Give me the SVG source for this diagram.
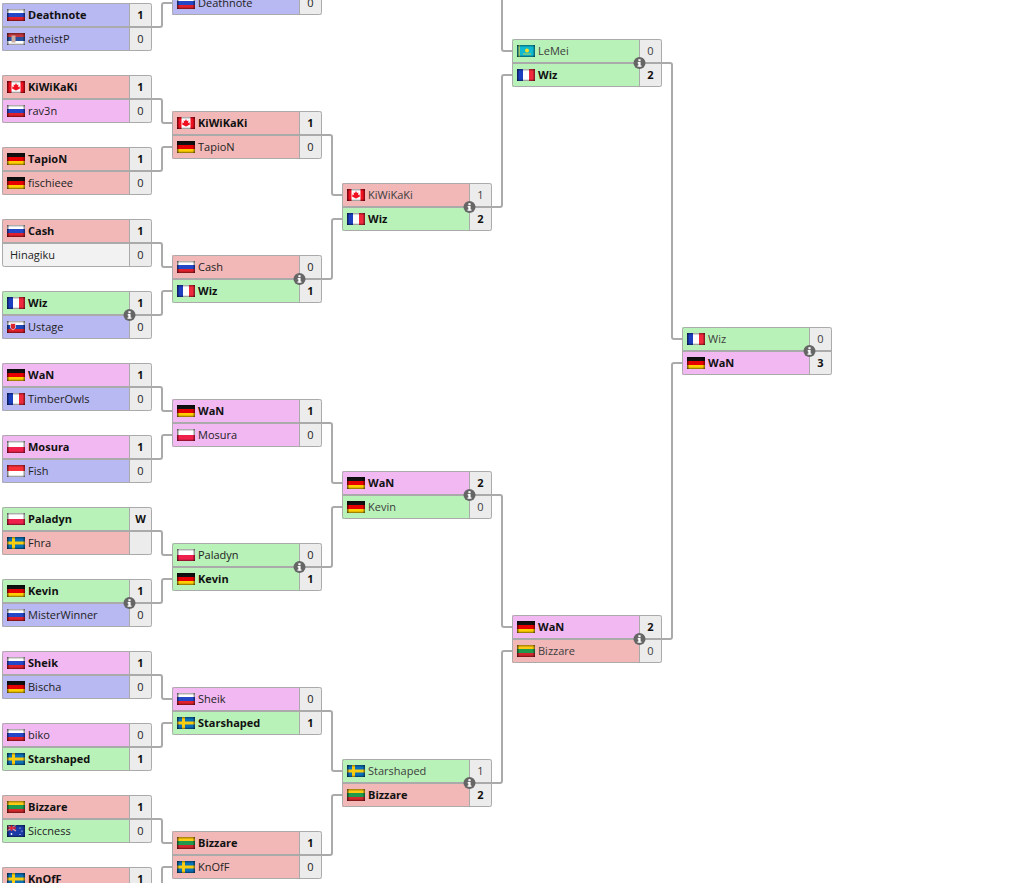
<svg xmlns="http://www.w3.org/2000/svg" width="1026" height="883" viewBox="0 0 1026 883">
<style>
text{font-family:"Open Sans","Noto Sans","DejaVu Sans",sans-serif;font-size:11px;fill:#222}
.b{font-weight:700;fill:#111}
.l{fill:#3c3c3c}
.s{text-anchor:middle}
.red{fill:#f2b8b8}.blu{fill:#b8b8f2}.vio{fill:#f2b8f2}.grn{fill:#b8f2b8}.gry{fill:#f2f2f2}.sc{fill:#ececec}
.box{fill:none;stroke:#aaa;stroke-width:1}
.div{stroke:#aaa;stroke-width:2;fill:none}
.vd{stroke:#aaa;stroke-width:1;fill:none}
.con{fill:none;stroke:#aaa;stroke-width:2;stroke-linejoin:round}
</style>
<defs>
<linearGradient id="gl" x1="0" y1="0" x2="1" y2="0"><stop offset="0" stop-color="#000" stop-opacity=".6"/><stop offset=".14" stop-color="#000" stop-opacity="0"/><stop offset=".86" stop-color="#000" stop-opacity="0"/><stop offset="1" stop-color="#000" stop-opacity=".5"/></linearGradient>
<linearGradient id="gv" x1="0" y1="0" x2="0" y2="1"><stop offset="0" stop-color="#000" stop-opacity=".4"/><stop offset=".2" stop-color="#000" stop-opacity="0"/><stop offset=".84" stop-color="#000" stop-opacity="0"/><stop offset="1" stop-color="#000" stop-opacity=".5"/></linearGradient>
<g id="ov"><rect width="18" height="12" fill="url(#gl)"/><rect width="18" height="12" fill="url(#gv)"/></g>
<symbol id="ru" width="18" height="12"><rect width="18" height="4" fill="#fff"/><rect y="4" width="18" height="4" fill="#2447c8"/><rect y="8" width="18" height="4" fill="#e0202c"/><use href="#ov"/></symbol>
<symbol id="rs" width="18" height="12"><rect width="18" height="4" fill="#c6363c"/><rect y="4" width="18" height="4" fill="#2a4f9c"/><rect y="8" width="18" height="4" fill="#fff"/><rect x="4.500" y="2.500" width="4" height="7" fill="#c9a9a0"/><use href="#ov"/></symbol>
<symbol id="ca" width="18" height="12"><rect width="18" height="12" fill="#fff"/><rect width="4.500" height="12" fill="#f01020"/><rect x="13.500" width="4.500" height="12" fill="#f01020"/><path d="M9 2L10 4L11.500 3.500L11 6L13 5.500L12.500 7L13 7.500L10 9H9.300V10H8.700V9H8L5 7.500L5.500 7L5 5.500L7 6L6.500 3.500L8 4Z" fill="#f01020"/><use href="#ov"/></symbol>
<symbol id="de" width="18" height="12"><rect width="18" height="4" fill="#111"/><rect y="4" width="18" height="4" fill="#e80000"/><rect y="8" width="18" height="4" fill="#ffce00"/><use href="#ov"/></symbol>
<symbol id="fr" width="18" height="12"><rect width="6" height="12" fill="#1c3fc0"/><rect x="6" width="6" height="12" fill="#fff"/><rect x="12" width="6" height="12" fill="#f02a3c"/><use href="#ov"/></symbol>
<symbol id="sk" width="18" height="12"><rect width="18" height="4" fill="#fff"/><rect y="4" width="18" height="4" fill="#1f47b8"/><rect y="8" width="18" height="4" fill="#e0202c"/><path d="M3.500 2.500h5v4.500l-2.500 2-2.500-2z" fill="#d8242c" stroke="#fff" stroke-width=".6"/><use href="#ov"/></symbol>
<symbol id="pl" width="18" height="12"><rect width="18" height="6" fill="#fff"/><rect y="6" width="18" height="6" fill="#f0204c"/><use href="#ov"/></symbol>
<symbol id="id" width="18" height="12"><rect width="18" height="6" fill="#f83038"/><rect y="6" width="18" height="6" fill="#fff"/><use href="#ov"/></symbol>
<symbol id="se" width="18" height="12"><rect width="18" height="12" fill="#0a70b8"/><rect x="5" width="3" height="12" fill="#f8cc10"/><rect y="4.500" width="18" height="3" fill="#f8cc10"/><use href="#ov"/></symbol>
<symbol id="lt" width="18" height="12"><rect width="18" height="4" fill="#fdc913"/><rect y="4" width="18" height="4" fill="#1f9a4c"/><rect y="8" width="18" height="4" fill="#d1272d"/><use href="#ov"/></symbol>
<symbol id="au" width="18" height="12"><rect width="18" height="12" fill="#1a3aa8"/><rect width="9" height="6" fill="#2a3fa8"/><path d="M0 0l9 6M9 0L0 6" stroke="#e8a0a8" stroke-width="1.200"/><path d="M4.500 0v6M0 3h9" stroke="#e02030" stroke-width="1.500"/><circle cx="4.500" cy="9" r=".9" fill="#fff"/><circle cx="13" cy="3" r=".6" fill="#fff"/><circle cx="15" cy="6" r=".6" fill="#fff"/><circle cx="13" cy="9.500" r=".6" fill="#fff"/><use href="#ov"/></symbol>
<symbol id="kz" width="18" height="12"><rect width="18" height="12" fill="#10b8d0"/><circle cx="10" cy="5.500" r="2" fill="#f4e020"/><path d="M6 9h8" stroke="#f4e020" stroke-width=".8"/><rect x="1.500" width="1.200" height="12" fill="#d8d040"/><use href="#ov"/></symbol>
<g id="inf"><circle r="6" fill="#666"/><rect x="-1.100" y="-3.800" width="2.200" height="2" fill="#fff"/><path d="M-1.800-.9H1.100V2.400H2V3.800H-2V2.400H-1.100V.5H-1.800z" fill="#fff"/></g>
<g id="fr0"><rect x="128" width="22" height="48" class="sc"/></g>
<g id="frame"><path class="vd" d="M127.500 0V48"/><path class="div" d="M0 24H150"/><rect class="box" x=".5" y=".5" width="149" height="47" rx="2"/></g>
</defs>

<g id="connectors">
<path class="con" d="M152 27H160Q162 27 162 25V5Q162 3 164 3H172"/>
<path class="con" d="M152 99H160Q162 99 162 101V121Q162 123 164 123H172"/>
<path class="con" d="M152 171H160Q162 171 162 169V149Q162 147 164 147H172"/>
<path class="con" d="M152 243H160Q162 243 162 245V265Q162 267 164 267H172"/>
<path class="con" d="M152 315H160Q162 315 162 313V293Q162 291 164 291H172"/>
<path class="con" d="M152 387H160Q162 387 162 389V409Q162 411 164 411H172"/>
<path class="con" d="M152 459H160Q162 459 162 457V437Q162 435 164 435H172"/>
<path class="con" d="M152 531H160Q162 531 162 533V553Q162 555 164 555H172"/>
<path class="con" d="M152 603H160Q162 603 162 601V581Q162 579 164 579H172"/>
<path class="con" d="M152 675H160Q162 675 162 677V697Q162 699 164 699H172"/>
<path class="con" d="M152 747H160Q162 747 162 745V725Q162 723 164 723H172"/>
<path class="con" d="M152 819H160Q162 819 162 821V841Q162 843 164 843H172"/>
<path class="con" d="M162 890V869Q162 867 164 867H172"/>
<path class="con" d="M322 135H330Q332 135 332 137V193Q332 195 334 195H342"/>
<path class="con" d="M322 279H330Q332 279 332 277V221Q332 219 334 219H342"/>
<path class="con" d="M322 423H330Q332 423 332 425V481Q332 483 334 483H342"/>
<path class="con" d="M322 567H330Q332 567 332 565V509Q332 507 334 507H342"/>
<path class="con" d="M322 711H330Q332 711 332 713V769Q332 771 334 771H342"/>
<path class="con" d="M322 855H330Q332 855 332 853V797Q332 795 334 795H342"/>
<path class="con" d="M502 -10V49Q502 51 504 51H512"/>
<path class="con" d="M492 207H500Q502 207 502 205V77Q502 75 504 75H512"/>
<path class="con" d="M492 495H500Q502 495 502 497V625Q502 627 504 627H512"/>
<path class="con" d="M492 783H500Q502 783 502 781V653Q502 651 504 651H512"/>
<path class="con" d="M662 63H670Q672 63 672 65V337Q672 339 674 339H682"/>
<path class="con" d="M662 639H670Q672 639 672 637V365Q672 363 674 363H682"/>
</g>

<g id="r1m1" transform="translate(2,3)"><rect width="128" height="24" class="blu"/><rect y="24" width="128" height="24" class="blu"/><use href="#fr0"/><use href="#ru" x="5" y="6"/><use href="#rs" x="5" y="30"/><use href="#frame"/><text class="b" x="26" y="16">Deathnote</text><text x="26" y="40">atheistP</text><text class="b s" x="138.500" y="16">1</text><text class="s" x="138.500" y="40">0</text></g>
<g id="r1m2" transform="translate(2,75)"><rect width="128" height="24" class="red"/><rect y="24" width="128" height="24" class="vio"/><use href="#fr0"/><use href="#ca" x="5" y="6"/><use href="#ru" x="5" y="30"/><use href="#frame"/><text class="b" x="26" y="16">KiWiKaKi</text><text x="26" y="40">rav3n</text><text class="b s" x="138.500" y="16">1</text><text class="s" x="138.500" y="40">0</text></g>
<g id="r1m3" transform="translate(2,147)"><rect width="128" height="24" class="red"/><rect y="24" width="128" height="24" class="red"/><use href="#fr0"/><use href="#de" x="5" y="6"/><use href="#de" x="5" y="30"/><use href="#frame"/><text class="b" x="26" y="16">TapioN</text><text x="26" y="40">fischieee</text><text class="b s" x="138.500" y="16">1</text><text class="s" x="138.500" y="40">0</text></g>
<g id="r1m4" transform="translate(2,219)"><rect width="128" height="24" class="red"/><rect y="24" width="128" height="24" class="gry"/><use href="#fr0"/><use href="#ru" x="5" y="6"/><use href="#frame"/><text class="b" x="26" y="16">Cash</text><text x="8" y="40">Hinagiku</text><text class="b s" x="138.500" y="16">1</text><text class="s" x="138.500" y="40">0</text></g>
<g id="r1m5" transform="translate(2,291)"><rect width="128" height="24" class="grn"/><rect y="24" width="128" height="24" class="blu"/><use href="#fr0"/><use href="#fr" x="5" y="6"/><use href="#sk" x="5" y="30"/><use href="#frame"/><text class="b" x="26" y="16">Wiz</text><text x="26" y="40">Ustage</text><text class="b s" x="138.500" y="16">1</text><text class="s" x="138.500" y="40">0</text><use href="#inf" x="127.500" y="24"/></g>
<g id="r1m6" transform="translate(2,363)"><rect width="128" height="24" class="vio"/><rect y="24" width="128" height="24" class="blu"/><use href="#fr0"/><use href="#de" x="5" y="6"/><use href="#fr" x="5" y="30"/><use href="#frame"/><text class="b" x="26" y="16">WaN</text><text x="26" y="40">TimberOwls</text><text class="b s" x="138.500" y="16">1</text><text class="s" x="138.500" y="40">0</text></g>
<g id="r1m7" transform="translate(2,435)"><rect width="128" height="24" class="vio"/><rect y="24" width="128" height="24" class="blu"/><use href="#fr0"/><use href="#pl" x="5" y="6"/><use href="#id" x="5" y="30"/><use href="#frame"/><text class="b" x="26" y="16">Mosura</text><text x="26" y="40">Fish</text><text class="b s" x="138.500" y="16">1</text><text class="s" x="138.500" y="40">0</text></g>
<g id="r1m8" transform="translate(2,507)"><rect width="128" height="24" class="grn"/><rect y="24" width="128" height="24" class="red"/><use href="#fr0"/><use href="#pl" x="5" y="6"/><use href="#se" x="5" y="30"/><use href="#frame"/><text class="b" x="26" y="16">Paladyn</text><text x="26" y="40">Fhra</text><text class="b s" x="138.500" y="16">W</text></g>
<g id="r1m9" transform="translate(2,579)"><rect width="128" height="24" class="grn"/><rect y="24" width="128" height="24" class="blu"/><use href="#fr0"/><use href="#de" x="5" y="6"/><use href="#ru" x="5" y="30"/><use href="#frame"/><text class="b" x="26" y="16">Kevin</text><text x="26" y="40">MisterWinner</text><text class="b s" x="138.500" y="16">1</text><text class="s" x="138.500" y="40">0</text><use href="#inf" x="127.500" y="24"/></g>
<g id="r1m10" transform="translate(2,651)"><rect width="128" height="24" class="vio"/><rect y="24" width="128" height="24" class="blu"/><use href="#fr0"/><use href="#ru" x="5" y="6"/><use href="#de" x="5" y="30"/><use href="#frame"/><text class="b" x="26" y="16">Sheik</text><text x="26" y="40">Bischa</text><text class="b s" x="138.500" y="16">1</text><text class="s" x="138.500" y="40">0</text></g>
<g id="r1m11" transform="translate(2,723)"><rect width="128" height="24" class="vio"/><rect y="24" width="128" height="24" class="grn"/><use href="#fr0"/><use href="#ru" x="5" y="6"/><use href="#se" x="5" y="30"/><use href="#frame"/><text x="26" y="16">biko</text><text class="b" x="26" y="40">Starshaped</text><text class="s" x="138.500" y="16">0</text><text class="b s" x="138.500" y="40">1</text></g>
<g id="r1m12" transform="translate(2,795)"><rect width="128" height="24" class="red"/><rect y="24" width="128" height="24" class="grn"/><use href="#fr0"/><use href="#lt" x="5" y="6"/><use href="#au" x="5" y="30"/><use href="#frame"/><text class="b" x="26" y="16">Bizzare</text><text x="26" y="40">Siccness</text><text class="b s" x="138.500" y="16">1</text><text class="s" x="138.500" y="40">0</text></g>
<g id="r1m13" transform="translate(2,867)"><rect width="128" height="24" class="red"/><use href="#fr0"/><use href="#se" x="5" y="6"/><use href="#frame"/><text class="b" x="26" y="16">KnOfF</text><text class="b s" x="138.500" y="16">1</text></g>

<g id="r2m1" transform="translate(172,-33)"><rect y="24" width="128" height="24" class="blu"/><use href="#fr0"/><use href="#ru" x="5" y="30"/><use href="#frame"/><text x="26" y="40">Deathnote</text><text class="s" x="138.500" y="40">0</text></g>
<g id="r2m2" transform="translate(172,111)"><rect width="128" height="24" class="red"/><rect y="24" width="128" height="24" class="red"/><use href="#fr0"/><use href="#ca" x="5" y="6"/><use href="#de" x="5" y="30"/><use href="#frame"/><text class="b" x="26" y="16">KiWiKaKi</text><text x="26" y="40">TapioN</text><text class="b s" x="138.500" y="16">1</text><text class="s" x="138.500" y="40">0</text></g>
<g id="r2m3" transform="translate(172,255)"><rect width="128" height="24" class="red"/><rect y="24" width="128" height="24" class="grn"/><use href="#fr0"/><use href="#ru" x="5" y="6"/><use href="#fr" x="5" y="30"/><use href="#frame"/><text x="26" y="16">Cash</text><text class="b" x="26" y="40">Wiz</text><text class="s" x="138.500" y="16">0</text><text class="b s" x="138.500" y="40">1</text><use href="#inf" x="127.500" y="24"/></g>
<g id="r2m4" transform="translate(172,399)"><rect width="128" height="24" class="vio"/><rect y="24" width="128" height="24" class="vio"/><use href="#fr0"/><use href="#de" x="5" y="6"/><use href="#pl" x="5" y="30"/><use href="#frame"/><text class="b" x="26" y="16">WaN</text><text x="26" y="40">Mosura</text><text class="b s" x="138.500" y="16">1</text><text class="s" x="138.500" y="40">0</text></g>
<g id="r2m5" transform="translate(172,543)"><rect width="128" height="24" class="grn"/><rect y="24" width="128" height="24" class="grn"/><use href="#fr0"/><use href="#pl" x="5" y="6"/><use href="#de" x="5" y="30"/><use href="#frame"/><text x="26" y="16">Paladyn</text><text class="b" x="26" y="40">Kevin</text><text class="s" x="138.500" y="16">0</text><text class="b s" x="138.500" y="40">1</text><use href="#inf" x="127.500" y="24"/></g>
<g id="r2m6" transform="translate(172,687)"><rect width="128" height="24" class="vio"/><rect y="24" width="128" height="24" class="grn"/><use href="#fr0"/><use href="#ru" x="5" y="6"/><use href="#se" x="5" y="30"/><use href="#frame"/><text x="26" y="16">Sheik</text><text class="b" x="26" y="40">Starshaped</text><text class="s" x="138.500" y="16">0</text><text class="b s" x="138.500" y="40">1</text></g>
<g id="r2m7" transform="translate(172,831)"><rect width="128" height="24" class="red"/><rect y="24" width="128" height="24" class="red"/><use href="#fr0"/><use href="#lt" x="5" y="6"/><use href="#se" x="5" y="30"/><use href="#frame"/><text class="b" x="26" y="16">Bizzare</text><text x="26" y="40">KnOfF</text><text class="b s" x="138.500" y="16">1</text><text class="s" x="138.500" y="40">0</text></g>

<g id="r3m1" transform="translate(342,183)"><rect width="128" height="24" class="red"/><rect y="24" width="128" height="24" class="grn"/><use href="#fr0"/><use href="#ca" x="5" y="6"/><use href="#fr" x="5" y="30"/><use href="#frame"/><text class="l" x="26" y="16">KiWiKaKi</text><text class="b" x="26" y="40">Wiz</text><text class="l s" x="138.500" y="16">1</text><text class="b s" x="138.500" y="40">2</text><use href="#inf" x="127.500" y="24"/></g>
<g id="r3m2" transform="translate(342,471)"><rect width="128" height="24" class="vio"/><rect y="24" width="128" height="24" class="grn"/><use href="#fr0"/><use href="#de" x="5" y="6"/><use href="#de" x="5" y="30"/><use href="#frame"/><text class="b" x="26" y="16">WaN</text><text class="l" x="26" y="40">Kevin</text><text class="b s" x="138.500" y="16">2</text><text class="l s" x="138.500" y="40">0</text><use href="#inf" x="127.500" y="24"/></g>
<g id="r3m3" transform="translate(342,759)"><rect width="128" height="24" class="grn"/><rect y="24" width="128" height="24" class="red"/><use href="#fr0"/><use href="#se" x="5" y="6"/><use href="#lt" x="5" y="30"/><use href="#frame"/><text class="l" x="26" y="16">Starshaped</text><text class="b" x="26" y="40">Bizzare</text><text class="l s" x="138.500" y="16">1</text><text class="b s" x="138.500" y="40">2</text><use href="#inf" x="127.500" y="24"/></g>

<g id="r4m1" transform="translate(512,39)"><rect width="128" height="24" class="grn"/><rect y="24" width="128" height="24" class="grn"/><use href="#fr0"/><use href="#kz" x="5" y="6"/><use href="#fr" x="5" y="30"/><use href="#frame"/><text class="l" x="26" y="16">LeMei</text><text class="b" x="26" y="40">Wiz</text><text class="l s" x="138.500" y="16">0</text><text class="b s" x="138.500" y="40">2</text><use href="#inf" x="127.500" y="24"/></g>
<g id="r4m2" transform="translate(512,615)"><rect width="128" height="24" class="vio"/><rect y="24" width="128" height="24" class="red"/><use href="#fr0"/><use href="#de" x="5" y="6"/><use href="#lt" x="5" y="30"/><use href="#frame"/><text class="b" x="26" y="16">WaN</text><text class="l" x="26" y="40">Bizzare</text><text class="b s" x="138.500" y="16">2</text><text class="l s" x="138.500" y="40">0</text><use href="#inf" x="127.500" y="24"/></g>

<g id="r5m1" transform="translate(682,327)"><rect width="128" height="24" class="grn"/><rect y="24" width="128" height="24" class="vio"/><use href="#fr0"/><use href="#fr" x="5" y="6"/><use href="#de" x="5" y="30"/><use href="#frame"/><text class="l" x="26" y="16">Wiz</text><text class="b" x="26" y="40">WaN</text><text class="l s" x="138.500" y="16">0</text><text class="b s" x="138.500" y="40">3</text><use href="#inf" x="127.500" y="24"/></g>
</svg>
